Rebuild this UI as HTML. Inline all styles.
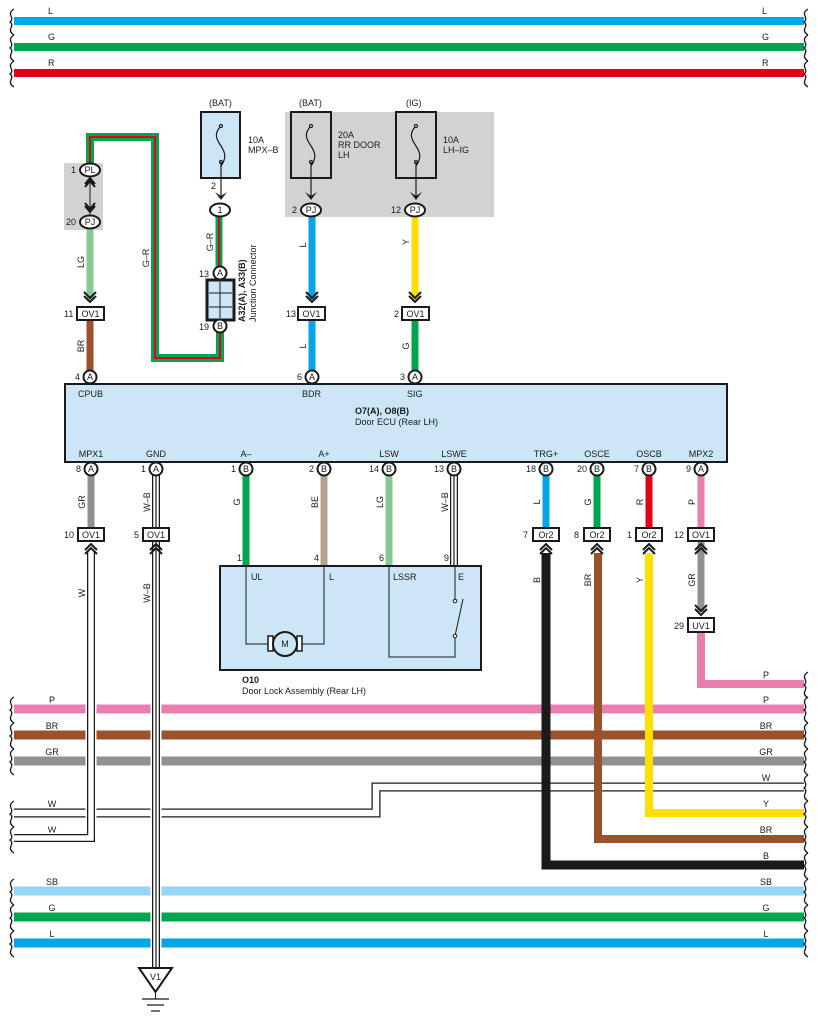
<!DOCTYPE html>
<html><head><meta charset="utf-8"><style>
html,body{margin:0;padding:0;background:#fff;}
svg{display:block;font-family:"Liberation Sans",Arial,sans-serif;}
text{font-size:9px;fill:#1a1a1a;}
</style></head><body>
<svg width="818" height="1022" viewBox="0 0 818 1022" xmlns="http://www.w3.org/2000/svg">
<defs>
<g id="brace"><path d="M0,-12 q-5,3 -3,7 q2,4 -1,6 q3,2 1,6 q-2,4 3,7" fill="none" stroke="#1a1a1a" stroke-width="1.3"/></g>
</defs>
<!-- top buses -->
<g stroke-width="8" fill="none">
<line x1="14" y1="21" x2="804" y2="21" stroke="#00a6e8"/>
<line x1="14" y1="47" x2="804" y2="47" stroke="#00a550"/>
<line x1="14" y1="73" x2="804" y2="73" stroke="#e2001a"/>
</g>
<use href="#brace" x="14" y="21"/><use href="#brace" x="14" y="47"/><use href="#brace" x="14" y="73"/>
<use href="#brace" x="808" y="21"/><use href="#brace" x="808" y="47"/><use href="#brace" x="808" y="73"/>
<text x="48" y="14">L</text><text x="762" y="14">L</text>
<text x="48" y="40">G</text><text x="762" y="40">G</text>
<text x="48" y="66">R</text><text x="762" y="66">R</text>

<!-- bottom buses -->
<g stroke-width="9" fill="none">
<line x1="14" y1="709" x2="804" y2="709" stroke="#e97fb1"/>
<line x1="14" y1="735" x2="804" y2="735" stroke="#9c512d"/>
<line x1="14" y1="761" x2="804" y2="761" stroke="#8f9094"/>
<line x1="14" y1="891" x2="804" y2="891" stroke="#94d4f4"/>
<line x1="14" y1="917" x2="804" y2="917" stroke="#00a550"/>
<line x1="14" y1="943" x2="804" y2="943" stroke="#00a6e8"/>
</g>
<!-- W bus -->
<path d="M14,813 H376 V787 H804" fill="none" stroke="#1a1a1a" stroke-width="9"/>
<path d="M14,813 H376 V787 H804" fill="none" stroke="#fff" stroke-width="6.5"/>
<!-- right colored returns -->
<path d="M649,553 V813 H804" fill="none" stroke="#ffde00" stroke-width="8"/>
<path d="M598,553 V839 H804" fill="none" stroke="#9c512d" stroke-width="8"/>
<path d="M546,553 V865 H804" fill="none" stroke="#1a1a1a" stroke-width="9"/>
<path d="M701,632 V684 H804" fill="none" stroke="#e97fb1" stroke-width="8"/>
<g>
<use href="#brace" x="14" y="709"/><use href="#brace" x="14" y="735"/><use href="#brace" x="14" y="761"/>
<use href="#brace" x="14" y="813"/><use href="#brace" x="14" y="839"/>
<use href="#brace" x="14" y="891"/><use href="#brace" x="14" y="917"/><use href="#brace" x="14" y="943"/>
<use href="#brace" x="808" y="684"/><use href="#brace" x="808" y="709"/><use href="#brace" x="808" y="735"/><use href="#brace" x="808" y="761"/>
<use href="#brace" x="808" y="787"/><use href="#brace" x="808" y="813"/><use href="#brace" x="808" y="839"/><use href="#brace" x="808" y="865"/>
<use href="#brace" x="808" y="891"/><use href="#brace" x="808" y="917"/><use href="#brace" x="808" y="943"/>
</g>
<g text-anchor="middle">
<text x="52" y="703">P</text><text x="52" y="729">BR</text><text x="52" y="755">GR</text>
<text x="52" y="807">W</text><text x="52" y="833">W</text>
<text x="52" y="885">SB</text><text x="52" y="911">G</text><text x="52" y="937">L</text>
<text x="766" y="678">P</text><text x="766" y="703">P</text><text x="766" y="729">BR</text><text x="766" y="755">GR</text>
<text x="766" y="781">W</text><text x="766" y="807">Y</text><text x="766" y="833">BR</text><text x="766" y="859">B</text>
<text x="766" y="885">SB</text><text x="766" y="911">G</text><text x="766" y="937">L</text>
</g>

<!-- MPX1 W vertical with halo -->
<path d="M91,552 V838 H14" fill="none" stroke="#fff" stroke-width="11"/>
<path d="M91,552 V838 H14" fill="none" stroke="#1a1a1a" stroke-width="8"/>
<path d="M91,552 V838 H14" fill="none" stroke="#fff" stroke-width="5.5"/>
<!-- GND W-B vertical -->
<line x1="156" y1="475" x2="156" y2="968" stroke="#fff" stroke-width="11"/>
<line x1="156" y1="475" x2="156" y2="968" stroke="#1a1a1a" stroke-width="8"/>
<line x1="156" y1="475" x2="156" y2="968" stroke="#fff" stroke-width="5.5"/>
<line x1="156" y1="475" x2="156" y2="968" stroke="#1a1a1a" stroke-width="1.2"/>
<!-- ground -->
<path d="M139,968 H172 L155.5,992 Z" fill="#fff" stroke="#1a1a1a" stroke-width="2"/>
<text x="155.5" y="980" text-anchor="middle">V1</text>
<line x1="155.5" y1="992" x2="155.5" y2="999" stroke="#1a1a1a"/>
<line x1="142" y1="999" x2="169" y2="999" stroke="#1a1a1a" stroke-width="1.2"/>
<line x1="147" y1="1005" x2="164" y2="1005" stroke="#1a1a1a" stroke-width="1.2"/>
<line x1="151" y1="1011" x2="160" y2="1011" stroke="#1a1a1a" stroke-width="1.2"/>

<!-- top section -->
<rect x="64" y="163" width="39" height="67" fill="#d1d2d4"/>
<rect x="285" y="112" width="209" height="105" fill="#d1d2d4"/>
<!-- G-R loop -->
<path d="M90,170 V137 H155 V358 H220 V326" fill="none" stroke="#00a550" stroke-width="8"/>
<path d="M90,170 V137 H155 V358 H220 V326" fill="none" stroke="#e2001a" stroke-width="2"/>
<path d="M219,216 V273" fill="none" stroke="#00a550" stroke-width="7"/>
<path d="M219,216 V273" fill="none" stroke="#e2001a" stroke-width="2"/>
<!-- PL-PJ -->
<line x1="90" y1="176" x2="90" y2="216" stroke="#1a1a1a" stroke-width="1"/>
<path d="M85,184 L90,178 L95,184 M85,187 L90,181 L95,187" fill="none" stroke="#1a1a1a" stroke-width="2"/>
<path d="M85,206 L90,212 L95,206 M85,203 L90,209 L95,203" fill="none" stroke="#1a1a1a" stroke-width="2"/>
<line x1="90" y1="229" x2="90" y2="300" stroke="#86c994" stroke-width="7"/>
<line x1="90" y1="320" x2="90" y2="371" stroke="#9c512d" stroke-width="7"/>
<line x1="312" y1="217" x2="312" y2="300" stroke="#00a6e8" stroke-width="7"/>
<line x1="312" y1="320" x2="312" y2="371" stroke="#00a6e8" stroke-width="7"/>
<line x1="415" y1="217" x2="415" y2="300" stroke="#ffde00" stroke-width="7"/>
<line x1="415" y1="320" x2="415" y2="371" stroke="#00a550" stroke-width="7"/>
<!-- chevrons top -->
<g fill="none" stroke="#1a1a1a" stroke-width="2">
<path d="M84,292 L90,298 L96,292 M84,296 L90,302 L96,296"/>
<path d="M306,292 L312,298 L318,292 M306,296 L312,302 L318,296"/>
<path d="M409,292 L415,298 L421,292 M409,296 L415,302 L421,296"/>
</g>
<!-- fuses -->
<g stroke="#1a1a1a" stroke-width="2">
<rect x="201" y="112" width="39" height="66" fill="#cce6f7"/>
<rect x="291" y="112" width="40" height="66" fill="#d1d2d4"/>
<rect x="396" y="112" width="40" height="66" fill="#d1d2d4"/>
</g>
<g fill="none" stroke="#1a1a1a" stroke-width="1.2">
<path d="M221,126 c-8,8 -4,14 0,20 c4,6 6,12 0,20"/><circle cx="221" cy="126" r="1.5" fill="#fff"/><circle cx="221" cy="162" r="1.5" fill="#fff"/>
<path d="M311,126 c-8,8 -4,14 0,20 c4,6 6,12 0,20"/><circle cx="311" cy="126" r="1.5" fill="#fff"/><circle cx="311" cy="162" r="1.5" fill="#fff"/>
<path d="M416,126 c-8,8 -4,14 0,20 c4,6 6,12 0,20"/><circle cx="416" cy="126" r="1.5" fill="#fff"/><circle cx="416" cy="162" r="1.5" fill="#fff"/>
<line x1="221" y1="162" x2="221" y2="198"/><line x1="311" y1="162" x2="311" y2="198"/><line x1="416" y1="162" x2="416" y2="198"/>
</g>
<g fill="#1a1a1a">
<path d="M215,192 L221,200 L227,192 L221,196Z"/>
<path d="M305,192 L311,200 L317,192 L311,196Z"/>
<path d="M410,192 L416,200 L422,192 L416,196Z"/>
</g>
<text x="209" y="106">(BAT)</text><text x="299" y="106">(BAT)</text><text x="406" y="106">(IG)</text>
<text x="248" y="143">10A</text><text x="248" y="153">MPX–B</text>
<text x="338" y="138">20A</text><text x="338" y="148">RR DOOR</text><text x="338" y="158">LH</text>
<text x="443" y="143">10A</text><text x="443" y="153">LH–IG</text>
<!-- ovals -->
<g stroke="#1a1a1a" stroke-width="2" fill="#fff">
<ellipse cx="90" cy="170" rx="10" ry="6.5"/>
<ellipse cx="90" cy="222" rx="10" ry="6.5"/>
<ellipse cx="220" cy="210" rx="10" ry="6.5"/>
<ellipse cx="311" cy="210" rx="10" ry="6.5"/>
<ellipse cx="415" cy="210" rx="10" ry="6.5"/>
</g>
<g text-anchor="middle">
<text x="90" y="173">PL</text><text x="90" y="225">PJ</text><text x="220" y="213">1</text>
<text x="311" y="213">PJ</text><text x="415" y="213">PJ</text>
</g>
<text x="71" y="173">1</text><text x="66" y="225">20</text><text x="211" y="189">2</text>
<text x="292" y="213">2</text><text x="391" y="213">12</text>
<!-- junction connector -->
<rect x="207" y="280" width="27" height="40" fill="#cce6f7" stroke="#1a1a1a" stroke-width="3"/>
<path d="M220,282 V318 M209,293 H232 M209,307 H232" stroke="#1a1a1a" stroke-width="1"/>
<text transform="translate(245,322) rotate(-90)" font-weight="bold">A32(A), A33(B)</text>
<text transform="translate(256,322) rotate(-90)">Junction Connector</text>
<text x="199" y="277">13</text><text x="199" y="330">19</text>
<!-- boxes OV1 top -->
<g stroke="#1a1a1a" stroke-width="2" fill="#fff">
<rect x="77" y="307" width="27" height="13"/><rect x="298" y="307" width="27" height="13"/><rect x="402" y="307" width="27" height="13"/>
</g>
<g text-anchor="middle"><text x="90.5" y="317">OV1</text><text x="311.5" y="317">OV1</text><text x="415.5" y="317">OV1</text></g>
<text x="64" y="317">11</text><text x="286" y="317">13</text><text x="394" y="317">2</text>
<!-- wire labels top -->
<g>
<text transform="translate(84,262) rotate(-90)" text-anchor="middle">LG</text>
<text transform="translate(84,346) rotate(-90)" text-anchor="middle">BR</text>
<text transform="translate(149,258) rotate(-90)" text-anchor="middle">G–R</text>
<text transform="translate(213,242) rotate(-90)" text-anchor="middle">G–R</text>
<text transform="translate(306,245) rotate(-90)" text-anchor="middle">L</text>
<text transform="translate(306,346) rotate(-90)" text-anchor="middle">L</text>
<text transform="translate(409,242) rotate(-90)" text-anchor="middle">Y</text>
<text transform="translate(409,346) rotate(-90)" text-anchor="middle">G</text>
</g>

<!-- ECU -->
<rect x="65" y="384" width="662" height="78" fill="#cce6f7" stroke="#1a1a1a" stroke-width="2"/>
<text x="78" y="397">CPUB</text><text x="302" y="397">BDR</text><text x="407" y="397">SIG</text>
<text x="355" y="414" font-weight="bold">O7(A), O8(B)</text>
<text x="355" y="425">Door ECU (Rear LH)</text>
<g text-anchor="middle">
<text x="91" y="457">MPX1</text><text x="156" y="457">GND</text><text x="246" y="457">A–</text><text x="324" y="457">A+</text>
<text x="389" y="457">LSW</text><text x="454" y="457">LSWE</text><text x="546" y="457">TRG+</text><text x="597" y="457">OSCE</text>
<text x="649" y="457">OSCB</text><text x="701" y="457">MPX2</text>
</g>

<!-- lower wires -->
<line x1="91" y1="475" x2="91" y2="528" stroke="#8f9094" stroke-width="7"/>
<line x1="246" y1="475" x2="246" y2="567" stroke="#00a550" stroke-width="7"/>
<line x1="324" y1="475" x2="324" y2="567" stroke="#b5a38f" stroke-width="7"/>
<line x1="389" y1="475" x2="389" y2="567" stroke="#86c994" stroke-width="7"/>
<line x1="454" y1="475" x2="454" y2="567" stroke="#1a1a1a" stroke-width="8"/>
<line x1="454" y1="475" x2="454" y2="567" stroke="#fff" stroke-width="5.5"/>
<line x1="454" y1="475" x2="454" y2="567" stroke="#1a1a1a" stroke-width="1.2"/>
<line x1="546" y1="475" x2="546" y2="528" stroke="#00a6e8" stroke-width="7"/>
<line x1="597" y1="475" x2="597" y2="528" stroke="#00a550" stroke-width="7"/>
<line x1="649" y1="475" x2="649" y2="528" stroke="#e2001a" stroke-width="7"/>
<line x1="701" y1="475" x2="701" y2="528" stroke="#e97fb1" stroke-width="7"/>
<line x1="701" y1="541" x2="701" y2="612" stroke="#8f9094" stroke-width="7"/>
<!-- chevrons up -->
<g fill="none" stroke="#1a1a1a" stroke-width="2">
<path d="M85,550 L91,544 L97,550 M85,554 L91,548 L97,554"/>
<path d="M150,550 L156,544 L162,550 M150,554 L156,548 L162,554"/>
<path d="M540,550 L546,544 L552,550 M540,554 L546,548 L552,554"/>
<path d="M591,550 L597,544 L603,550 M591,554 L597,548 L603,554"/>
<path d="M643,550 L649,544 L655,550 M643,554 L649,548 L655,554"/>
<path d="M695,550 L701,544 L707,550 M695,554 L701,548 L707,554"/>
<path d="M695,605 L701,611 L707,605 M695,609 L701,615 L707,609"/>
</g>
<g stroke="#1a1a1a" stroke-width="2" fill="#fff">
<rect x="78" y="528" width="26" height="13"/><rect x="143" y="528" width="26" height="13"/>
<rect x="533" y="528" width="26" height="13"/><rect x="584" y="528" width="26" height="13"/>
<rect x="636" y="528" width="26" height="13"/><rect x="688" y="528" width="26" height="13"/>
<rect x="688" y="618" width="26" height="14"/>
</g>
<g text-anchor="middle">
<text x="91" y="538">OV1</text><text x="156" y="538">OV1</text><text x="546" y="538">Or2</text><text x="597" y="538">Or2</text>
<text x="649" y="538">Or2</text><text x="701" y="538">OV1</text><text x="701" y="629">UV1</text>
</g>
<text x="64" y="538">10</text><text x="134" y="538">5</text><text x="523" y="538">7</text><text x="574" y="538">8</text>
<text x="627" y="538">1</text><text x="674" y="538">12</text><text x="674" y="629">29</text>
<!-- lower wire labels -->
<g text-anchor="middle">
<text transform="translate(85,502) rotate(-90)">GR</text>
<text transform="translate(150,502) rotate(-90)">W–B</text>
<text transform="translate(240,502) rotate(-90)">G</text>
<text transform="translate(318,502) rotate(-90)">BE</text>
<text transform="translate(383,502) rotate(-90)">LG</text>
<text transform="translate(448,502) rotate(-90)">W–B</text>
<text transform="translate(540,502) rotate(-90)">L</text>
<text transform="translate(591,502) rotate(-90)">G</text>
<text transform="translate(643,502) rotate(-90)">R</text>
<text transform="translate(695,502) rotate(-90)">P</text>
<text transform="translate(85,593) rotate(-90)">W</text>
<text transform="translate(150,593) rotate(-90)">W–B</text>
<text transform="translate(540,580) rotate(-90)">B</text>
<text transform="translate(591,580) rotate(-90)">BR</text>
<text transform="translate(643,580) rotate(-90)">Y</text>
<text transform="translate(695,580) rotate(-90)">GR</text>
</g>

<!-- door lock assembly -->
<rect x="220" y="566" width="261" height="104" fill="#cce6f7" stroke="#1a1a1a" stroke-width="2"/>
<g fill="none" stroke="#1a1a1a" stroke-width="1">
<path d="M246,567 V644 H272 M298,644 H324 V567"/>
<path d="M389,567 V657 H455 V636"/>
<path d="M455,567 V601"/>
<path d="M455,636 L463,599"/>
</g>
<circle cx="455" cy="601" r="1.8" fill="#fff" stroke="#1a1a1a"/>
<circle cx="455" cy="636" r="1.8" fill="#fff" stroke="#1a1a1a"/>
<rect x="268" y="636" width="5" height="15" fill="#fff" stroke="#1a1a1a" stroke-width="1.5"/>
<rect x="297" y="636" width="5" height="15" fill="#fff" stroke="#1a1a1a" stroke-width="1.5"/>
<circle cx="285" cy="644" r="12" fill="#cce6f7" stroke="#1a1a1a" stroke-width="2"/>
<text x="285" y="647" text-anchor="middle" font-size="8">M</text>
<text x="251" y="580">UL</text><text x="329" y="580">L</text><text x="393" y="580">LSSR</text><text x="458" y="580">E</text>
<text x="237" y="561">1</text><text x="314" y="561">4</text><text x="379" y="561">6</text><text x="444" y="561">9</text>
<text x="242" y="683" font-weight="bold">O10</text>
<text x="242" y="694">Door Lock Assembly (Rear LH)</text>

<!-- connector circles -->
<g stroke="#1a1a1a" stroke-width="2" fill="#fff">
<circle cx="90" cy="377" r="6.5"/><circle cx="312" cy="377" r="6.5"/><circle cx="415" cy="377" r="6.5"/>
<circle cx="220" cy="273" r="6.5"/><circle cx="220" cy="326" r="6.5"/>
<circle cx="91" cy="469" r="6.5"/><circle cx="156" cy="469" r="6.5"/><circle cx="246" cy="469" r="6.5"/>
<circle cx="324" cy="469" r="6.5"/><circle cx="389" cy="469" r="6.5"/><circle cx="454" cy="469" r="6.5"/>
<circle cx="546" cy="469" r="6.5"/><circle cx="597" cy="469" r="6.5"/><circle cx="649" cy="469" r="6.5"/>
<circle cx="701" cy="469" r="6.5"/>
</g>
<g text-anchor="middle" font-size="8">
<text x="90" y="380" font-size="8">A</text><text x="312" y="380" font-size="8">A</text><text x="415" y="380" font-size="8">A</text>
<text x="220" y="276" font-size="8">A</text><text x="220" y="329" font-size="8">B</text>
<text x="91" y="472" font-size="8">A</text><text x="156" y="472" font-size="8">A</text><text x="246" y="472" font-size="8">B</text>
<text x="324" y="472" font-size="8">B</text><text x="389" y="472" font-size="8">B</text><text x="454" y="472" font-size="8">B</text>
<text x="546" y="472" font-size="8">B</text><text x="597" y="472" font-size="8">B</text><text x="649" y="472" font-size="8">B</text>
<text x="701" y="472" font-size="8">A</text>
</g>
<text x="75" y="380">4</text><text x="297" y="380">6</text><text x="400" y="380">3</text>
<text x="76" y="472">8</text><text x="141" y="472">1</text><text x="231" y="472">1</text><text x="309" y="472">2</text>
<text x="369" y="472">14</text><text x="434" y="472">13</text><text x="526" y="472">18</text><text x="577" y="472">20</text>
<text x="634" y="472">7</text><text x="686" y="472">9</text>
</svg>
</body></html>
